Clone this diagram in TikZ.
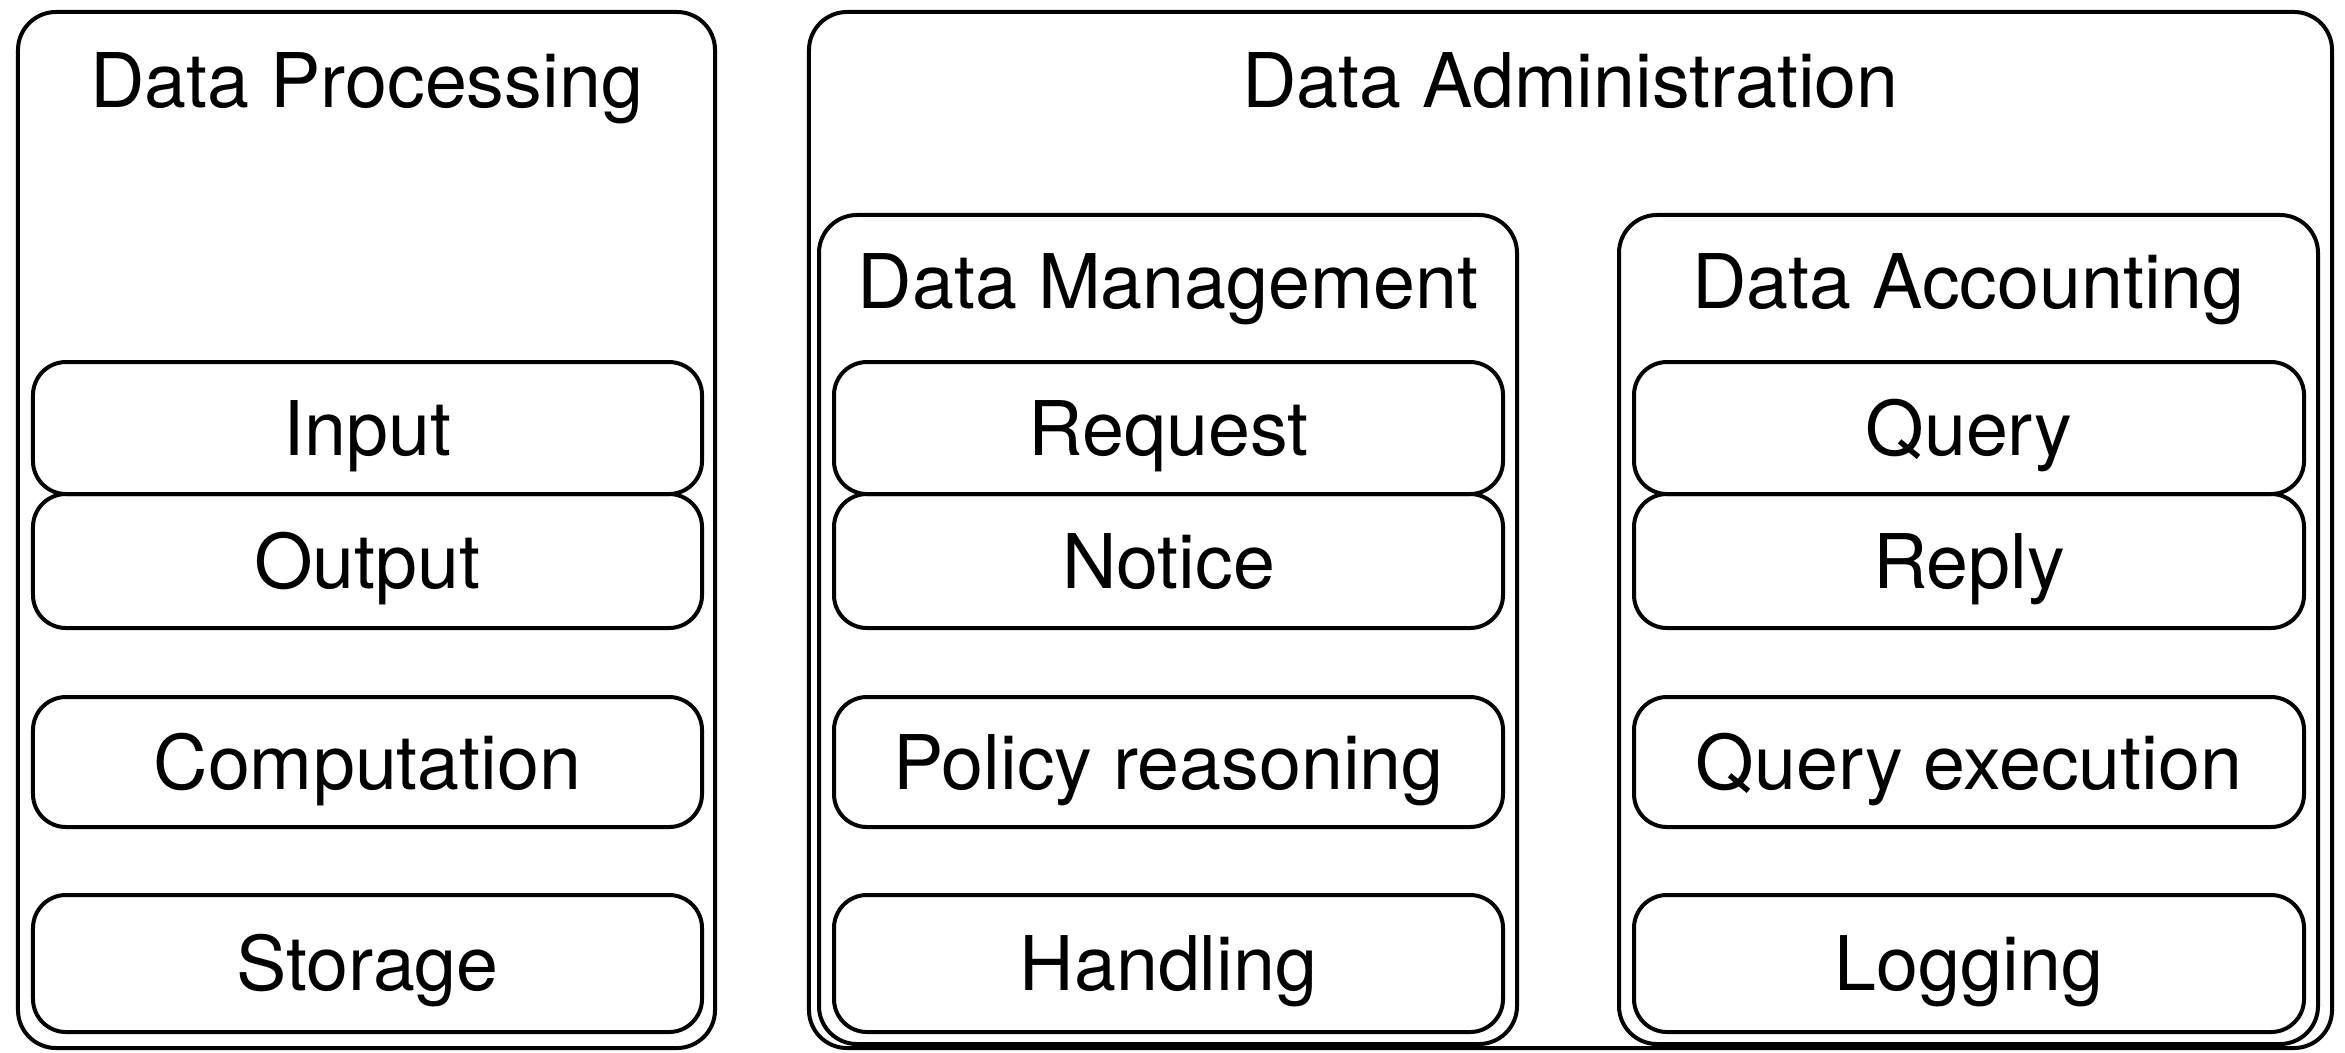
\documentclass[tikz,border=0pt]{standalone}
\usepackage{fontspec}
\setmainfont{TeX Gyre Heros}
\begin{document}
\begin{tikzpicture}[x=0.5bp,y=-0.5bp,
  every node/.style={font=\fontsize{37.7bp}{45bp}\selectfont},
  outerbox/.style={draw, line width=2bp, rounded corners=19bp, inner sep=0pt},
  itembox/.style={draw, line width=2bp, rounded corners=16.5bp, inner sep=0pt,
     text height=27bp, text depth=0pt},
  title/.style={anchor=base, inner sep=0pt}]
\useasboundingbox (0,0) rectangle (2345,1052);
% outer containers
\node[outerbox, minimum width=348.5bp, minimum height=518bp] (dp) at (366.5,530) {};
\node[outerbox, minimum width=761.5bp, minimum height=518bp] (da) at (1570.5,530) {};
\node[outerbox, minimum width=349bp, minimum height=414.5bp] (dm) at (1168,629.5) {};
\node[outerbox, minimum width=349.5bp, minimum height=414.5bp] (dacc) at (1968.5,629.5) {};
% titles
\node[title] (tdp) at (366.5,107) {Data Processing};
\node[title] (tda) at (1570.5,107) {Data Administration};
\node[title] (tdm) at (1168,308) {Data Management};
\node[title] (tdacc) at (1968.5,308) {Data Accounting};
% Data Processing items
\node[itembox, minimum width=334.5bp, minimum height=66bp] (input) at (367.5,428) {Input};
\node[itembox, minimum width=334.5bp, minimum height=67bp] (output) at (367.5,561) {Output};
\node[itembox, minimum width=334.5bp, minimum height=65bp] (comp) at (367.5,762) {Computation};
\node[itembox, minimum width=334.5bp, minimum height=68.5bp] (stor) at (367.5,963.5) {Storage};
% Data Management items
\node[itembox, minimum width=334.5bp, minimum height=66bp] (req) at (1168.5,428) {Request};
\node[itembox, minimum width=334.5bp, minimum height=67bp] (notice) at (1168.5,561) {Notice};
\node[itembox, minimum width=334.5bp, minimum height=65bp] (pol) at (1168.5,762) {Policy reasoning};
\node[itembox, minimum width=334.5bp, minimum height=68.5bp] (hand) at (1168.5,963.5) {Handling};
% Data Accounting items
\node[itembox, minimum width=335bp, minimum height=66bp] (query) at (1969,428) {Query};
\node[itembox, minimum width=335bp, minimum height=67bp] (reply) at (1969,561) {Reply};
\node[itembox, minimum width=335bp, minimum height=65bp] (qexec) at (1969,762) {Query execution};
\node[itembox, minimum width=335bp, minimum height=68.5bp] (log) at (1969,963.5) {Logging};
\end{tikzpicture}
\end{document}
